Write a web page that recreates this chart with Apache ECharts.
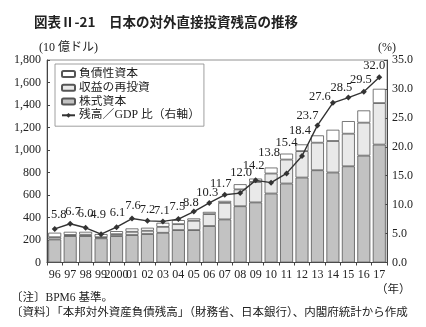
<!DOCTYPE html>
<html>
<head>
<meta charset="utf-8">
<script src="https://cdn.jsdelivr.net/npm/echarts@6/dist/echarts.min.js"></script>
<style>
  html, body { margin: 0; padding: 0; background: #fff; }
  #chart { width: 426px; height: 327px; }
</style>
</head>
<body>
<div id="chart"></div>
<script>
// 年（1996〜2017）
const years = ['96','97','98','99','2000','01','02','03','04','05','06','07','08','09','10','11','12','13','14','15','16','17'];
// 株式資本（10億ドル）
const equityCapital = [205, 235, 235, 215, 235, 244, 253, 264, 288, 288, 324, 383, 500, 534, 613, 702, 755, 820, 800, 855, 950, 1048];
// 収益の再投資（10億ドル）
const reinvestedEarnings = [20, 10, 12, 10, 17, 29, 29, 53, 53, 83, 106, 147, 150, 182, 178, 213, 235, 245, 280, 290, 293, 369];
// 負債性資本（10億ドル）
const debtInstruments = [40, 28, 26, 28, 27, 30, 27, 36, 36, 21, 20, 18, 46, 30, 53, 53, 60, 65, 100, 112, 109, 127];
// 残高／GDP 比（%）
const ratioToGdp = [5.8, 6.7, 6.0, 4.9, 6.1, 7.6, 7.2, 7.1, 7.5, 8.8, 10.3, 11.7, 12.0, 14.2, 13.8, 15.4, 18.4, 23.7, 27.6, 28.5, 29.5, 32.0];

// 比率ラベルの配置（点の中心からのずれ, px）
const ratioLabelOffsets = [
  [4, -14], [3, -12], [0, -14], [-3, -19], [1, -14], [1, -13], [0, -11], [-1, -11],
  [-1, -12], [-3, -9], [-2, -10], [-4, -11], [1, -20], [-2, -15], [-2, -30], [0, -31],
  [-2, -25], [-10, -10], [-13, -6], [-7, -10], [-3, -12], [-5, -12]
];

const serif = 'Liberation Serif, "Noto Sans CJK JP", serif';
const textColor = '#222';
const markerSize = 6;

const chart = echarts.init(document.getElementById('chart'), null, { renderer: 'canvas' });

const barBorder = { borderColor: '#555', borderWidth: 0.8 };

// ラベル位置はマーカーの外接矩形の左上を原点とする
const ratioPoints = ratioToGdp.map((v, i) => ({
  value: v,
  label: {
    position: [markerSize / 2 + ratioLabelOffsets[i][0], markerSize / 2 + ratioLabelOffsets[i][1]]
  }
}));

chart.setOption({
  animation: false,
  backgroundColor: '#fff',
  textStyle: { fontFamily: serif, color: textColor },
  title: [
    {
      text: '図表Ⅱ-21　日本の対外直接投資残高の推移',
      left: 29, top: 10,
      textStyle: { fontFamily: '"Noto Sans CJK JP", sans-serif', fontWeight: 'bold', fontSize: 13.5, color: '#222' }
    },
    {
      text: '〔注〕BPM6 基準。',
      left: 6, top: 287,
      textStyle: { fontFamily: serif, fontWeight: 'normal', fontSize: 11.5, color: textColor }
    },
    {
      text: '〔資料〕「本邦対外資産負債残高」（財務省、日本銀行）、内閣府統計から作成',
      left: 6, top: 302,
      textStyle: { fontFamily: serif, fontWeight: 'normal', fontSize: 11.5, color: textColor }
    },
    {
      text: '（年）',
      left: 371, top: 279,
      textStyle: { fontFamily: serif, fontWeight: 'normal', fontSize: 11.5, color: textColor }
    }
  ],
  legend: {
    orient: 'vertical',
    left: 55, top: 64,
    itemWidth: 13, itemHeight: 6,
    itemGap: 2,
    padding: [4, 4, 5, 6],
    borderColor: '#888', borderWidth: 0.8,
    backgroundColor: '#fff',
    textStyle: { fontFamily: serif, fontSize: 11.8, color: textColor, padding: [0, 0, 0, -1] },
    data: [
      { name: '負債性資本' },
      { name: '収益の再投資' },
      { name: '株式資本' },
      { name: '残高／GDP 比（右軸）' }
    ]
  },
  grid: { left: 47, right: 39, top: 60, bottom: 64.5, show: true, borderColor: '#777', borderWidth: 0.8 },
  xAxis: {
    type: 'category',
    data: years,
    axisLine: { lineStyle: { color: '#444', width: 1 } },
    axisTick: { show: true, length: 3, lineStyle: { color: '#444' } },
    axisLabel: { fontFamily: serif, fontSize: 12, color: textColor, margin: 6, interval: 0 }
  },
  yAxis: [
    {
      type: 'value',
      min: 0, max: 1800, interval: 200,
      name: '(10 億ドル)', nameGap: 6,
      nameTextStyle: { fontFamily: serif, fontSize: 12, color: textColor, align: 'left', padding: [0, 0, 0, -8] },
      axisLine: { show: true, lineStyle: { color: '#444' } },
      axisTick: { show: true, inside: true, length: 3, lineStyle: { color: '#444' } },
      splitLine: { show: false },
      axisLabel: {
        fontFamily: serif, fontSize: 12, color: textColor, margin: 6,
        formatter: v => v.toLocaleString('en-US')
      }
    },
    {
      type: 'value',
      min: 0, max: 35, interval: 5,
      name: '(%)', nameGap: 6,
      nameTextStyle: { fontFamily: serif, fontSize: 12, color: textColor, align: 'center' },
      axisLine: { show: true, lineStyle: { color: '#444' } },
      axisTick: { show: true, inside: true, length: 3, lineStyle: { color: '#444' } },
      splitLine: { show: false },
      axisLabel: {
        fontFamily: serif, fontSize: 12, color: textColor, margin: 5,
        formatter: v => v.toFixed(1)
      }
    }
  ],
  series: [
    {
      name: '株式資本', type: 'bar', stack: 'fdi', barCategoryGap: '16%',
      data: equityCapital,
      itemStyle: Object.assign({ color: '#c2c2c2' }, barBorder)
    },
    {
      name: '収益の再投資', type: 'bar', stack: 'fdi',
      data: reinvestedEarnings,
      itemStyle: Object.assign({ color: '#e9e9e9' }, barBorder)
    },
    {
      name: '負債性資本', type: 'bar', stack: 'fdi',
      data: debtInstruments,
      itemStyle: Object.assign({ color: '#ffffff' }, barBorder)
    },
    {
      name: '残高／GDP 比（右軸）', type: 'line', yAxisIndex: 1,
      data: ratioPoints,
      symbol: 'diamond', symbolSize: markerSize,
      lineStyle: { color: '#333', width: 1.4 },
      itemStyle: { color: '#333' },
      label: {
        show: true,
        align: 'center', verticalAlign: 'middle',
        fontFamily: serif, fontSize: 12.5, color: textColor,
        formatter: p => p.value.toFixed(1)
      },
      labelLayout: { hideOverlap: false },
      zlevel: 1,
      z: 5
    }
  ]
});
</script>
</body>
</html>
